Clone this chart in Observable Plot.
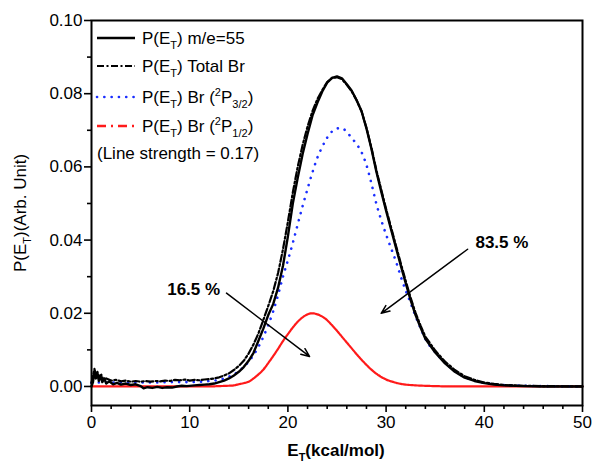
<!DOCTYPE html>
<html>
<head>
<meta charset="utf-8">
<script src="https://cdn.jsdelivr.net/npm/d3@7"></script>
<script src="https://cdn.jsdelivr.net/npm/@observablehq/plot@0.6"></script>
<style>
  html, body { margin: 0; padding: 0; background: #fff; }
  #chart svg { display: block; }
</style>
</head>
<body>
<div id="chart"></div>
<script>
// ---- data (E_T in kcal/mol, P(E_T) arb. units) ----
const seriesNames = ["P(E_T) m/e=55", "P(E_T) Total Br", "P(E_T) Br (2P3/2)", "P(E_T) Br (2P1/2)"];

const mE55 = [
  [0,0.0000],[0.15,0.0012],[0.3,0.0042],[0.45,0.0022],[0.6,0.0036],[0.75,0.0015],[0.9,0.0030],
  [1.1,0.0012],[1.3,0.0022],[1.5,0.0008],[1.8,0.0014],[2.2,0.0006],[2.6,0.0010],[3,0.0005],
  [3.5,0.0008],[4,0.0004],[4.5,0.0006],[5,0.0001],[5.3,-0.0005],[5.7,-0.0002],[6.2,-0.0004],
  [6.7,-0.0001],[7.2,-0.0004],[7.7,-0.0002],[8.2,-0.0003],[8.7,0.0000],[9.2,0.0002],[9.7,0.0001],
  [10.5,0.0003],[11,0.0004],[11.5,0.0005],[12,0.0006],[12.5,0.0008],[13,0.0012],[13.5,0.0016],
  [14,0.0022],[14.5,0.0030],[15,0.0040],[15.5,0.0053],[16,0.0070],[16.5,0.0092],[17,0.0125],
  [17.5,0.0158],[18,0.0195],[18.5,0.0225],[19,0.0270],[19.5,0.0330],[20,0.0410],[20.5,0.0500],
  [21,0.0570],[21.5,0.0635],[22,0.0690],[22.5,0.0740],[23,0.0775],[23.5,0.0806],[24,0.0830],
  [24.5,0.0843],[25,0.0847],[25.5,0.0842],[26,0.0826],[26.5,0.0808],[27,0.0782],[27.5,0.0752],
  [28,0.0705],[28.5,0.0650],[29,0.0588],[29.5,0.0533],[30,0.0480],[30.5,0.0430],[31,0.0380],
  [31.5,0.0330],[32,0.0282],[32.5,0.0236],[33,0.0195],[33.5,0.0162],[34,0.0130],[35,0.0093],
  [36,0.0063],[37,0.0040],[38,0.0024],[39,0.0015],[40,0.0009],[41,0.0005],[42,0.0003],
  [44,0.0001],[46,0.0000],[50,0.0000]
];

const totalBr = [
  [0,0.0010],[0.15,0.0028],[0.3,0.0048],[0.45,0.0030],[0.6,0.0040],[0.8,0.0024],[1,0.0032],
  [1.2,0.0019],[1.5,0.0022],[2,0.0016],[2.5,0.0018],[3,0.0014],[3.5,0.0016],[4,0.0013],
  [4.5,0.0015],[5,0.0013],[5.5,0.0015],[6,0.0013],[6.5,0.0015],[7,0.0014],[7.5,0.0016],
  [8,0.0015],[8.5,0.0018],[9,0.0017],[9.5,0.0019],[10,0.0016],[10.5,0.0018],[11,0.0017],
  [11.5,0.0019],[12,0.0020],[12.5,0.0022],[13,0.0025],[13.5,0.0030],[14,0.0036],[14.5,0.0045],
  [15,0.0056],[15.5,0.0070],[16,0.0090],[16.5,0.0115],[17,0.0145],[17.5,0.0182],[18,0.0220],
  [18.5,0.0260],[19,0.0310],[19.5,0.0375],[20,0.0450],[20.5,0.0530],[21,0.0600],[21.5,0.0660],
  [22,0.0710],[22.5,0.0752],[23,0.0785],[23.5,0.0810],[24,0.0832],[24.5,0.0843],[25,0.0845],
  [25.5,0.0840],[26,0.0824],[26.5,0.0806],[27,0.0782],[27.5,0.0752],[28,0.0707],[28.5,0.0653],
  [29,0.0592],[29.5,0.0538],[30,0.0485],[30.5,0.0435],[31,0.0385],[31.5,0.0336],[32,0.0288],
  [32.5,0.0242],[33,0.0201],[33.5,0.0167],[34,0.0136],[35,0.0098],[36,0.0068],[37,0.0045],
  [38,0.0028],[39,0.0018],[40,0.0011],[41,0.0007],[42,0.0004],[44,0.0002],[46,0.0001],[50,0.0000]
];

const br32 = [
  [0,0.0010],[1,0.0011],[2,0.0011],[3,0.0011],[4,0.0011],[5,0.0011],[6,0.0011],[7,0.0011],
  [8,0.0012],[9,0.0012],[10,0.0012],[11,0.0013],[12,0.0015],[13,0.0018],[14,0.0027],
  [15,0.0042],[16,0.0068],[17,0.0108],[18,0.0168],[18.5,0.0205],[19,0.0250],[19.5,0.0300],
  [20,0.0345],[20.5,0.0392],[21,0.0443],[21.5,0.0493],[22,0.0540],[22.5,0.0585],[23,0.0625],
  [23.5,0.0655],[24,0.0680],[24.5,0.0697],[25,0.0705],[25.5,0.0706],[26,0.0695],[26.5,0.0679],
  [27,0.0662],[27.5,0.0640],[28,0.0605],[28.5,0.0555],[29,0.0500],[29.5,0.0455],[30,0.0415],
  [30.5,0.0378],[31,0.0342],[31.5,0.0300],[32,0.0262],[32.5,0.0228],[33,0.0192],[33.5,0.0160],
  [34,0.0130],[35,0.0094],[36,0.0065],[37,0.0042],[38,0.0026],[39,0.0016],[40,0.0010],
  [42,0.0004],[44,0.0002],[46,0.0001],[50,0.0000]
];

const br12 = [
  [0,0.0000],[5,0.0000],[10,0.0000],[12,0.0000],[13,0.0001],[14,0.0002],[14.5,0.0003],
  [15,0.0006],[15.5,0.0009],[16,0.0013],[16.5,0.0022],[17,0.0033],[17.5,0.0046],[18,0.0064],
  [18.5,0.0083],[19,0.0103],[19.5,0.0124],[20,0.0143],[20.5,0.0161],[21,0.0177],[21.5,0.0189],
  [22,0.0197],[22.5,0.0200],[23,0.0197],[23.5,0.0191],[24,0.0181],[24.5,0.0167],[25,0.0152],
  [25.5,0.0136],[26,0.0120],[26.5,0.0104],[27,0.0088],[27.5,0.0073],[28,0.0059],[28.5,0.0046],
  [29,0.0035],[29.5,0.0026],[30,0.0019],[30.5,0.0014],[31,0.0010],[31.5,0.0007],[32,0.0005],
  [33,0.0003],[35,0.0001],[37,0.0000],[50,0.0000]
];

const xMajorTicks = [0, 10, 20, 30, 40, 50];
const xMinorTicks = [2, 4, 6, 8, 12, 14, 16, 18, 22, 24, 26, 28, 32, 34, 36, 38, 42, 44, 46, 48];
const yMajorTicks = [0, 0.02, 0.04, 0.06, 0.08, 0.10];
const yMinorTicks = [0.01, 0.03, 0.05, 0.07, 0.09];

const annLabels = [
  {x: 39.1, y: 0.0392, text: "83.5 %", anchor: "start"},
  {x: 13.1, y: 0.0266, text: "16.5 %", anchor: "end"}
];
const annArrows = [
  {x1: 38.3, y1: 0.0375, x2: 29.5, y2: 0.0200},
  {x1: 13.75, y1: 0.0255, x2: 22.2, y2: 0.0082}
];

// ---- chart ----
const FONT = "'Liberation Sans', Arial, Helvetica, sans-serif";
const BLUE = "#1a2eff";
const RED = "#ff1a1a";

const toRows = arr => arr.map(([x, y]) => ({x, y}));

const chart = Plot.plot({
  width: 592,
  height: 462,
  marginTop: 20,
  marginRight: 10,
  marginBottom: 57,
  marginLeft: 91,
  style: {fontFamily: FONT, fontSize: "17px", color: "#000", background: "#fff"},
  x: {domain: [0, 50], label: null},
  y: {domain: [-0.0052, 0.1], label: null},
  marks: [
    Plot.line(toRows(br12), {x: "x", y: "y", stroke: RED, strokeWidth: 2.2, strokeDasharray: "2.2,0.8", curve: "monotone-x"}),
    Plot.line(toRows(br32), {x: "x", y: "y", stroke: BLUE, strokeWidth: 2.6, strokeDasharray: "0.1,7.2", strokeLinecap: "round", curve: "monotone-x"}),
    Plot.line(toRows(totalBr), {x: "x", y: "y", stroke: "#000", strokeWidth: 2.2, strokeDasharray: "7,2.5,2,2.5"}),
    Plot.line(toRows(mE55), {x: "x", y: "y", stroke: "#000", strokeWidth: 2.4}),
    Plot.arrow(annArrows, {x1: "x1", y1: "y1", x2: "x2", y2: "y2", stroke: "#000", strokeWidth: 1.5, headLength: 9, headAngle: 45}),
    Plot.text(annLabels.filter(d => d.anchor === "start"), {x: "x", y: "y", text: "text", textAnchor: "start", fontWeight: "bold", fontSize: 17, fill: "#000"}),
    Plot.text(annLabels.filter(d => d.anchor === "end"), {x: "x", y: "y", text: "text", textAnchor: "end", fontWeight: "bold", fontSize: 17, fill: "#000"}),
    Plot.axisX({ticks: xMajorTicks, tickSize: 7, tickPadding: 3, tickFormat: d => String(d), label: null, fontSize: 17, strokeWidth: 1.6}),
    Plot.axisX({ticks: xMinorTicks, tickSize: 4, tickFormat: () => "", label: null, strokeWidth: 1.6}),
    Plot.axisY({ticks: yMajorTicks, tickSize: 7, tickPadding: 2, tickFormat: d3.format(".2f"), label: null, fontSize: 17, strokeWidth: 1.6}),
    Plot.axisY({ticks: yMinorTicks, tickSize: 4, tickFormat: () => "", label: null, strokeWidth: 1.6}),
    Plot.frame({stroke: "#000", strokeWidth: 2})
  ]
});

document.getElementById("chart").appendChild(chart);

// ---- legend and axis titles (with sub/superscripts) ----
const svg = d3.select(chart);
const g = svg.append("g").attr("font-family", FONT).attr("fill", "#000").attr("text-anchor", "start");

const legendRows = [
  {y: 38, stroke: "#000", dash: null, width: 2.4, cap: "butt", parts: [["P(E",0],["T",1],[") m/e=55",0]]},
  {y: 66, stroke: "#000", dash: "7,2.5,2,2.5", width: 2.2, cap: "butt", parts: [["P(E",0],["T",1],[") Total Br",0]]},
  {y: 97, stroke: BLUE, dash: "0.1,7.2", width: 2.6, cap: "round", parts: [["P(E",0],["T",1],[") Br (",0],["2",2],["P",0],["3/2",1],[")",0]]},
  {y: 126, stroke: RED, dash: "9,5,2,5", width: 2.4, cap: "butt", parts: [["P(E",0],["T",1],[") Br (",0],["2",2],["P",0],["1/2",1],[")",0]]}
];

function writeParts(textSel, parts) {
  parts.forEach(([s, kind]) => {
    const t = textSel.append("tspan").text(s);
    if (kind === 1) t.attr("font-size", 11).attr("baseline-shift", "-5");
    if (kind === 2) t.attr("font-size", 11).attr("baseline-shift", "7");
  });
}

legendRows.forEach(r => {
  const l = g.append("line").attr("x1", 97).attr("x2", 135).attr("y1", r.y).attr("y2", r.y)
    .attr("stroke", r.stroke).attr("stroke-width", r.width).attr("stroke-linecap", r.cap);
  if (r.dash) l.attr("stroke-dasharray", r.dash);
  const t = g.append("text").attr("x", 142).attr("y", r.y + 6).attr("font-size", 17).attr("text-anchor", "start");
  writeParts(t, r.parts);
});
g.append("text").attr("x", 97).attr("y", 159).attr("font-size", 17).attr("text-anchor", "start").text("(Line strength = 0.17)");

// x title
const xt = g.append("text").attr("x", 336).attr("y", 456).attr("text-anchor", "middle")
  .attr("font-size", 17).attr("font-weight", "bold");
writeParts(xt, [["E",0],["T",1],["(kcal/mol)",0]]);

// y title
const yt = g.append("text").attr("transform", "translate(26,213) rotate(-90)").attr("text-anchor", "middle")
  .attr("font-size", 17);
writeParts(yt, [["P(E",0],["T",1],[")(Arb. Unit)",0]]);
</script>
</body>
</html>
